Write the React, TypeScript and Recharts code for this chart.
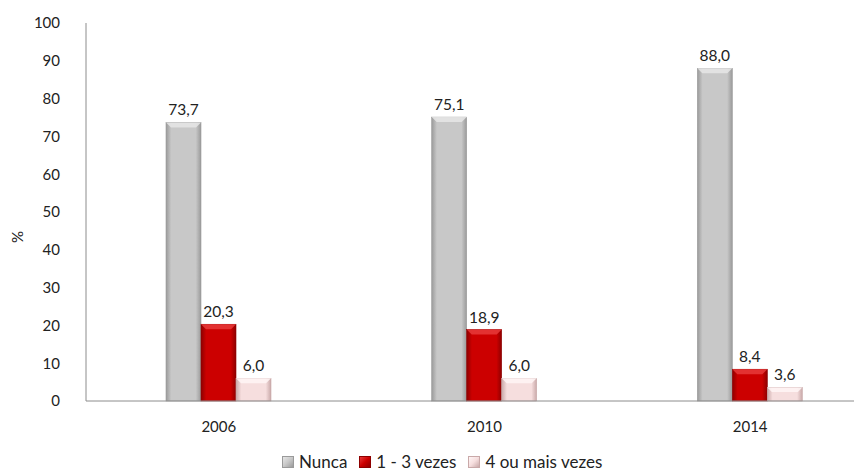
import { BarChart, Bar, XAxis, YAxis, LabelList } from "recharts";

const years = ["2006", "2010", "2014"];
const nunca = [73.7, 75.1, 88.0];
const umTres = [20.3, 18.9, 8.4];
const quatroMais = [6.0, 6.0, 3.6];
const yTicks = [0, 10, 20, 30, 40, 50, 60, 70, 80, 90, 100];

const SERIES = [
  { key: "nunca", name: "Nunca", grad: "gGray", edge: "#9a9a9a", base: "#c8c8c8", light: "#e6e6e6" },
  { key: "umTres", name: "1 - 3 vezes", grad: "gRed", edge: "#8e0000", base: "#cc0000", light: "#e63a3a" },
  { key: "quatroMais", name: "4 ou mais vezes", grad: "gPink", edge: "#c9a9a9", base: "#f6dede", light: "#fff6f6" },
];

const data = years.map((y, i) => ({
  year: y,
  nunca: nunca[i],
  umTres: umTres[i],
  quatroMais: quatroMais[i],
}));

const FONT = "Lato, 'Open Sans', sans-serif";
const fmt = (v: any) => Number(v).toFixed(1).replace(".", ",");

function BevelBar(props: any) {
  const { x, y, width, height, s } = props;
  if (!height || height <= 0) return null;
  const b = Math.min(5, height / 3);
  return (
    <g>
      <rect x={x} y={y} width={width} height={height} fill={`url(#${s.grad})`} stroke={s.edge} strokeWidth={0.6} />
      <polygon points={`${x},${y} ${x + width},${y} ${x + width - b},${y + b} ${x + b},${y + b}`} fill={s.light} opacity={0.85} />
    </g>
  );
}

function YLabel() {
  const cx = 15;
  const cy = 229;
  return (
    <text x={cx} y={cy} transform={`rotate(-90, ${cx}, ${cy})`} textAnchor="middle" fill="#222" fontSize={15} fontFamily={FONT}>
      %
    </text>
  );
}

function LegendBox() {
  return (
    <div style={{ position: "absolute", left: 274, top: 444, display: "flex", gap: 12, fontFamily: FONT, fontSize: 17, lineHeight: "20px", color: "#222", alignItems: "center" }}>
      {SERIES.map((s) => (
        <div key={s.key} style={{ display: "flex", alignItems: "center", gap: 5 }}>
          <span style={{ width: 10, height: 10, display: "inline-block", background: `linear-gradient(135deg, ${s.light}, ${s.base} 50%, ${s.edge})`, border: `1px solid ${s.edge}` }} />
          <span>{s.name}</span>
        </div>
      ))}
    </div>
  );
}

export default function App() {
  return (
    <div style={{ position: "relative", width: 880, height: 465 }}>
      <BarChart width={880} height={465} data={data} margin={{ top: 15, right: 5, bottom: 0, left: 0 }} barGap={0} barSize={35}>
        <defs>
          {SERIES.map((s) => (
            <linearGradient key={s.grad} id={s.grad} x1="0" y1="0" x2="1" y2="0">
              <stop offset="0%" stopColor={s.edge} />
              <stop offset="15%" stopColor={s.base} />
              <stop offset="85%" stopColor={s.base} />
              <stop offset="100%" stopColor={s.edge} />
            </linearGradient>
          ))}
        </defs>
        <XAxis
          dataKey="year"
          tickLine={false}
          axisLine={{ stroke: "#8c8c8c" }}
          tick={{ fill: "#222", fontSize: 15, fontFamily: FONT }}
          tickMargin={14}
          height={72}
        />
        <YAxis
          domain={[0, 100]}
          ticks={yTicks}
          interval={0}
          width={78}
          tickLine={false}
          axisLine={{ stroke: "#8c8c8c" }}
          tick={{ fill: "#222", fontSize: 15, fontFamily: FONT }}
          tickMargin={20}
          label={<YLabel />}
        />
        {SERIES.map((s) => (
          <Bar key={s.key} dataKey={s.key} name={s.name} isAnimationActive={false} shape={(p: any) => <BevelBar {...p} s={s} />}>
            <LabelList dataKey={s.key} position="top" offset={7} formatter={fmt} style={{ fill: "#222", fontSize: 15.5, fontFamily: FONT }} />
          </Bar>
        ))}
      </BarChart>
      <LegendBox />
    </div>
  );
}
